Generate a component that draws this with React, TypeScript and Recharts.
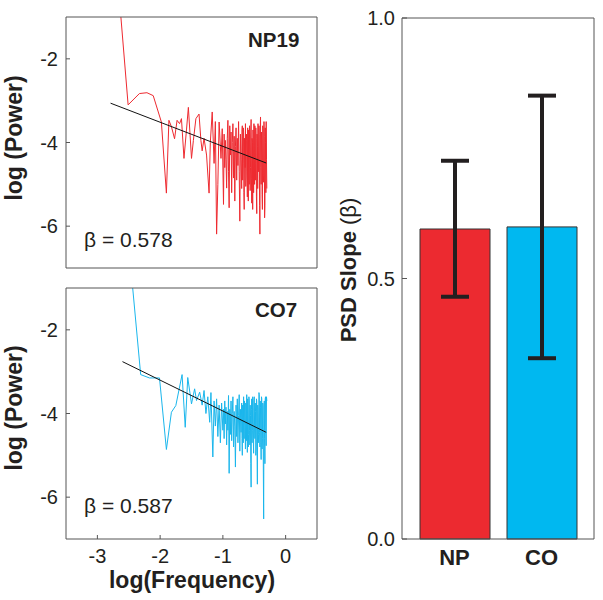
import React from 'react'
import { LineChart, Line, XAxis, YAxis, BarChart, Bar, Cell, ErrorBar } from 'recharts'

const FONT = "'Liberation Sans', Arial, Helvetica, sans-serif"
const INK = '#231F20'
const FRAME = '#555555'

// [log10(frequency), log10(power)]
const np19Spectrum: [number, number][] = [
  [-2.79, 2.0], [-2.51, -3.1], [-2.33, -2.83], [-2.21, -2.81], [-2.11, -2.88],
  [-1.98, -3.51], [-1.9, -5.21], [-1.86, -3.47], [-1.82, -3.62], [-1.77, -3.91],
  [-1.73, -3.47], [-1.69, -3.55], [-1.66, -3.43], [-1.62, -4.38], [-1.58, -3.7],
  [-1.55, -3.16], [-1.5, -4.38], [-1.47, -3.95], [-1.43, -3.43], [-1.38, -3.32],
  [-1.35, -3.95], [-1.33, -4.2], [-1.3, -3.9], [-1.26, -4.3], [-1.22, -5.21],
  [-1.2, -4.0], [-1.17, -3.27], [-1.14, -4.5], [-1.12, -3.5], [-1.1, -6.19],
  [-1.08, -5.01], [-1.06, -3.51], [-1.03, -4.38], [-1.01, -3.67], [-0.99, -5.48],
  [-0.98, -3.8], [-0.97, -4.6], [-0.96, -3.95], [-0.95, -4.4], [-0.94, -5.09],
  [-0.93, -3.9], [-0.92, -3.47], [-0.91, -4.7], [-0.9, -5.56], [-0.89, -3.6],
  [-0.88, -4.3], [-0.87, -3.75], [-0.86, -5.2], [-0.85, -4.0], [-0.84, -3.55],
  [-0.83, -4.85], [-0.82, -3.85], [-0.81, -5.4], [-0.8, -4.1], [-0.79, -3.65],
  [-0.78, -4.9], [-0.77, -3.9], [-0.76, -4.55], [-0.75, -3.5], [-0.74, -4.7],
  [-0.73, -5.88], [-0.72, -3.8], [-0.71, -4.4],
  [-0.7, -5.1], [-0.695, -3.7], [-0.69, -3.6], [-0.685, -4.9], [-0.68, -4.5],
  [-0.675, -3.65], [-0.67, -3.75], [-0.665, -5.2], [-0.66, -5.6], [-0.655, -3.9],
  [-0.65, -4.05], [-0.645, -4.6], [-0.64, -3.55], [-0.635, -5.05], [-0.63, -4.8],
  [-0.625, -3.8], [-0.62, -3.95], [-0.615, -4.7], [-0.61, -5.3], [-0.605, -3.65],
  [-0.6, -4.2], [-0.595, -5.4], [-0.59, -3.7], [-0.585, -4.4], [-0.58, -5.0],
  [-0.575, -3.6], [-0.57, -3.85], [-0.565, -5.15], [-0.56, -4.6], [-0.555, -3.75],
  [-0.55, -3.45], [-0.545, -4.85], [-0.54, -5.45], [-0.535, -3.9], [-0.53, -4.0],
  [-0.525, -5.6], [-0.52, -3.7], [-0.515, -4.3], [-0.51, -5.2], [-0.505, -3.55],
  [-0.5, -4.25], [-0.495, -5.0], [-0.49, -3.6], [-0.485, -4.5], [-0.48, -4.9],
  [-0.475, -3.65], [-0.47, -3.9], [-0.465, -5.3], [-0.46, -5.7], [-0.455, -3.8],
  [-0.45, -4.1], [-0.445, -5.1], [-0.44, -3.55], [-0.435, -4.4], [-0.43, -4.7],
  [-0.425, -3.6], [-0.42, -3.8], [-0.415, -5.5], [-0.41, -6.19], [-0.405, -3.7],
  [-0.4, -3.39], [-0.395, -4.6], [-0.39, -5.0], [-0.385, -3.75], [-0.38, -3.95],
  [-0.375, -5.25], [-0.37, -5.6], [-0.365, -3.6], [-0.36, -3.7], [-0.355, -4.95],
  [-0.35, -4.8], [-0.345, -3.5], [-0.34, -3.85], [-0.335, -5.8], [-0.33, -5.5],
  [-0.325, -3.65], [-0.32, -4.0], [-0.315, -5.2], [-0.31, -3.5], [-0.305, -4.4],
  [-0.3, -5.1],
]
const np19Fit: [number, number][] = [[-2.79, -3.06], [-0.31, -4.49]]

// [log10(frequency), log10(power)]
const co7Spectrum: [number, number][] = [
  [-2.6, 1.65], [-2.31, -3.07], [-2.17, -3.15], [-2.01, -3.15], [-1.9, -4.86],
  [-1.82, -3.97], [-1.75, -3.81], [-1.65, -3.07], [-1.6, -4.33], [-1.56, -3.14],
  [-1.5, -3.77], [-1.45, -3.41], [-1.42, -3.69], [-1.37, -3.49], [-1.33, -3.8],
  [-1.3, -3.45], [-1.27, -4.0], [-1.24, -3.6], [-1.21, -4.21], [-1.19, -3.5],
  [-1.16, -5.04], [-1.14, -3.7], [-1.12, -4.3], [-1.1, -3.65], [-1.08, -4.55],
  [-1.06, -3.8], [-1.04, -4.7], [-1.02, -3.75], [-1.0, -4.4], [-0.99, -3.9],
  [-0.98, -4.6], [-0.97, -3.7], [-0.96, -4.25], [-0.95, -3.85], [-0.94, -4.75],
  [-0.93, -3.95], [-0.92, -4.4], [-0.91, -3.57], [-0.9, -5.43], [-0.89, -3.9],
  [-0.88, -4.5], [-0.87, -3.7], [-0.86, -4.65], [-0.85, -4.0], [-0.84, -3.6],
  [-0.83, -4.8], [-0.82, -3.95], [-0.81, -4.3], [-0.8, -5.28], [-0.79, -3.8],
  [-0.78, -4.55], [-0.77, -3.65], [-0.76, -4.7], [-0.75, -4.05], [-0.74, -3.55],
  [-0.73, -4.9], [-0.72, -3.9], [-0.71, -4.45],
  [-0.7, -3.75], [-0.695, -4.6], [-0.69, -5.0], [-0.685, -3.8], [-0.68, -4.1],
  [-0.675, -4.7], [-0.67, -3.6], [-0.665, -4.3], [-0.66, -4.6], [-0.655, -3.7],
  [-0.65, -3.85], [-0.645, -4.5], [-0.64, -4.85], [-0.635, -3.75], [-0.63, -4.0],
  [-0.625, -4.65], [-0.62, -3.55], [-0.615, -4.2], [-0.61, -4.93], [-0.605, -3.65],
  [-0.6, -3.9], [-0.595, -4.8], [-0.59, -4.5], [-0.585, -3.6], [-0.58, -3.7],
  [-0.575, -4.4], [-0.57, -4.75], [-0.565, -3.8], [-0.56, -4.05], [-0.555, -5.2],
  [-0.55, -5.76], [-0.545, -3.9], [-0.54, -3.65], [-0.535, -4.7], [-0.53, -4.4],
  [-0.525, -3.6], [-0.52, -3.85], [-0.515, -4.6], [-0.51, -4.95], [-0.505, -3.7],
  [-0.5, -3.6], [-0.495, -4.3], [-0.49, -4.6], [-0.485, -3.75], [-0.48, -3.95],
  [-0.475, -5.0], [-0.47, -4.85], [-0.465, -3.65], [-0.46, -3.7], [-0.455, -4.9],
  [-0.45, -5.69], [-0.445, -3.8], [-0.44, -3.9], [-0.435, -4.7], [-0.43, -4.5],
  [-0.425, -3.5], [-0.42, -3.55], [-0.415, -4.45], [-0.41, -4.8], [-0.405, -3.7],
  [-0.4, -3.85], [-0.395, -4.7], [-0.39, -5.1], [-0.385, -3.6], [-0.38, -3.65],
  [-0.375, -4.85], [-0.37, -4.6], [-0.365, -3.75], [-0.36, -3.8], [-0.355, -5.4],
  [-0.35, -6.52], [-0.345, -3.9], [-0.34, -3.7], [-0.335, -4.6], [-0.33, -5.2],
  [-0.325, -3.65], [-0.32, -3.6], [-0.315, -4.4], [-0.31, -4.77], [-0.305, -3.6],
  [-0.3, -3.7],
]
const co7Fit: [number, number][] = [[-2.6, -2.76], [-0.31, -4.45]]

const freqDomain: [number, number] = [-3.5, 0.5]
const freqTicks = [-3, -2, -1, 0]
const powerDomain: [number, number] = [-7, -1]
const powerTicks = [-6, -4, -2]

const groups = ['NP', 'CO']
const slopeMean = [0.595, 0.599]
const slopeErr = [[0.13, 0.131], [0.252, 0.252]]
const groupColors = ['#EC2A30', '#00B8F0']
const slopeTicks = [0, 0.5, 1]

const toPoints = (pairs: [number, number][]) => pairs.map(([x, y]) => ({ x, y }))

const barData = groups.map((group, i) => ({ group, mean: slopeMean[i], err: slopeErr[i] }))

const tickText = { fontSize: 20, fill: INK, fontFamily: FONT }

interface PanelProps {
  spectrum: [number, number][]
  fit: [number, number][]
  color: string
  height: number
  marginTop: number
  bottomAxisHeight: number
  showFreq: boolean
}

function SpectrumPanel({ spectrum, fit, color, height, marginTop, bottomAxisHeight, showFreq }: PanelProps) {
  return (
    <LineChart width={330} height={height} margin={{ top: marginTop, right: 12, bottom: 0, left: 0 }}>
      <XAxis
        xAxisId="b"
        type="number"
        dataKey="x"
        domain={freqDomain}
        ticks={freqTicks}
        allowDataOverflow
        height={bottomAxisHeight}
        stroke={FRAME}
        fontSize={20}
        tickLine={showFreq}
        tickSize={-4}
        tickMargin={14}
        tick={showFreq ? tickText : false}
      />
      <XAxis
        xAxisId="t"
        orientation="top"
        type="number"
        dataKey="x"
        domain={freqDomain}
        ticks={freqTicks}
        allowDataOverflow
        height={1}
        stroke={FRAME}
        tickSize={-4}
        tick={false}
      />
      <YAxis
        yAxisId="l"
        type="number"
        domain={powerDomain}
        ticks={powerTicks}
        allowDataOverflow
        width={66}
        stroke={FRAME}
        fontSize={20}
        tickSize={-4}
        tickMargin={12}
        tick={tickText}
      />
      <YAxis
        yAxisId="r"
        orientation="right"
        type="number"
        domain={powerDomain}
        ticks={powerTicks}
        allowDataOverflow
        width={1}
        stroke={FRAME}
        tickSize={-4}
        tick={false}
      />
      <Line
        xAxisId="b"
        yAxisId="l"
        data={toPoints(spectrum)}
        dataKey="y"
        type="linear"
        stroke={color}
        strokeWidth={1}
        dot={false}
        isAnimationActive={false}
      />
      <Line
        xAxisId="b"
        yAxisId="l"
        data={toPoints(fit)}
        dataKey="y"
        type="linear"
        stroke="#111"
        strokeWidth={1}
        dot={false}
        isAnimationActive={false}
      />
    </LineChart>
  )
}

export default function App() {
  return (
    <div style={{ position: 'absolute', left: 0, top: 0, width: 603, height: 600, background: '#fff' }}>
      <div style={{ position: 'absolute', left: 0, top: 0 }}>
        <SpectrumPanel spectrum={np19Spectrum} fit={np19Fit} color="#EE2A30" height={280} marginTop={16} bottomAxisHeight={12} showFreq={false} />
      </div>
      <div style={{ position: 'absolute', left: 0, top: 280 }}>
        <SpectrumPanel spectrum={co7Spectrum} fit={co7Fit} color="#1AB6EC" height={320} marginTop={7} bottomAxisHeight={61} showFreq />
      </div>
      <div style={{ position: 'absolute', left: 330, top: 0 }}>
        <BarChart width={273} height={600} data={barData} margin={{ top: 17, right: 8, bottom: 0, left: 0 }}>
          <XAxis
            dataKey="group"
            padding={{ left: 9, right: 9 }}
            height={61}
            stroke={FRAME}
            fontSize={22}
            tickLine={false}
            tickSize={6}
            tickMargin={4}
            tick={{ fontSize: 22, fontWeight: 700, fill: INK, fontFamily: FONT }}
          />
          <XAxis
            xAxisId="t"
            orientation="top"
            dataKey="group"
            padding={{ left: 9, right: 9 }}
            height={1}
            stroke={FRAME}
            tickSize={-5}
            tick={false}
          />
          <YAxis
            type="number"
            domain={[0, 1]}
            ticks={slopeTicks}
            width={72}
            stroke={FRAME}
            fontSize={20}
            tickSize={-5}
            tickMargin={12}
            tickFormatter={(v: number) => v.toFixed(1)}
            tick={{ fontSize: 20, fill: INK, fontFamily: FONT }}
          />
          <YAxis
            yAxisId="r"
            orientation="right"
            type="number"
            domain={[0, 1]}
            ticks={slopeTicks}
            width={1}
            stroke={FRAME}
            tickSize={-5}
            tick={false}
          />
          <Bar dataKey="mean" barSize={70} stroke="#333" strokeWidth={1} isAnimationActive={false}>
            {barData.map((d, i) => (
              <Cell key={d.group} fill={groupColors[i]} />
            ))}
            <ErrorBar dataKey="err" width={14} strokeWidth={4} stroke={INK} direction="y" isAnimationActive={false} />
          </Bar>
        </BarChart>
      </div>
      <svg
        width={603}
        height={600}
        style={{ position: 'absolute', left: 0, top: 0, pointerEvents: 'none' }}
        fontFamily={FONT}
        fill={INK}
      >
        <text x={22} y={138} fontSize={23} fontWeight={700} textAnchor="middle" transform="rotate(-90 22 138)">
          log (Power)
        </text>
        <text x={22} y={408} fontSize={23} fontWeight={700} textAnchor="middle" transform="rotate(-90 22 408)">
          log (Power)
        </text>
        <text x={192} y={588} fontSize={23} fontWeight={700} textAnchor="middle">
          log(Frequency)
        </text>
        <text x={356} y={270} fontSize={22} textAnchor="middle" transform="rotate(-90 356 270)">
          <tspan fontWeight={700}>PSD Slope </tspan>
          <tspan>(β)</tspan>
        </text>
        <text x={248} y={47} fontSize={20.5} fontWeight={700}>NP19</text>
        <text x={255} y={317} fontSize={20.5} fontWeight={700}>CO7</text>
        <text x={84} y={247} fontSize={21}>β = 0.578</text>
        <text x={84} y={513} fontSize={21}>β = 0.587</text>
      </svg>
    </div>
  )
}
